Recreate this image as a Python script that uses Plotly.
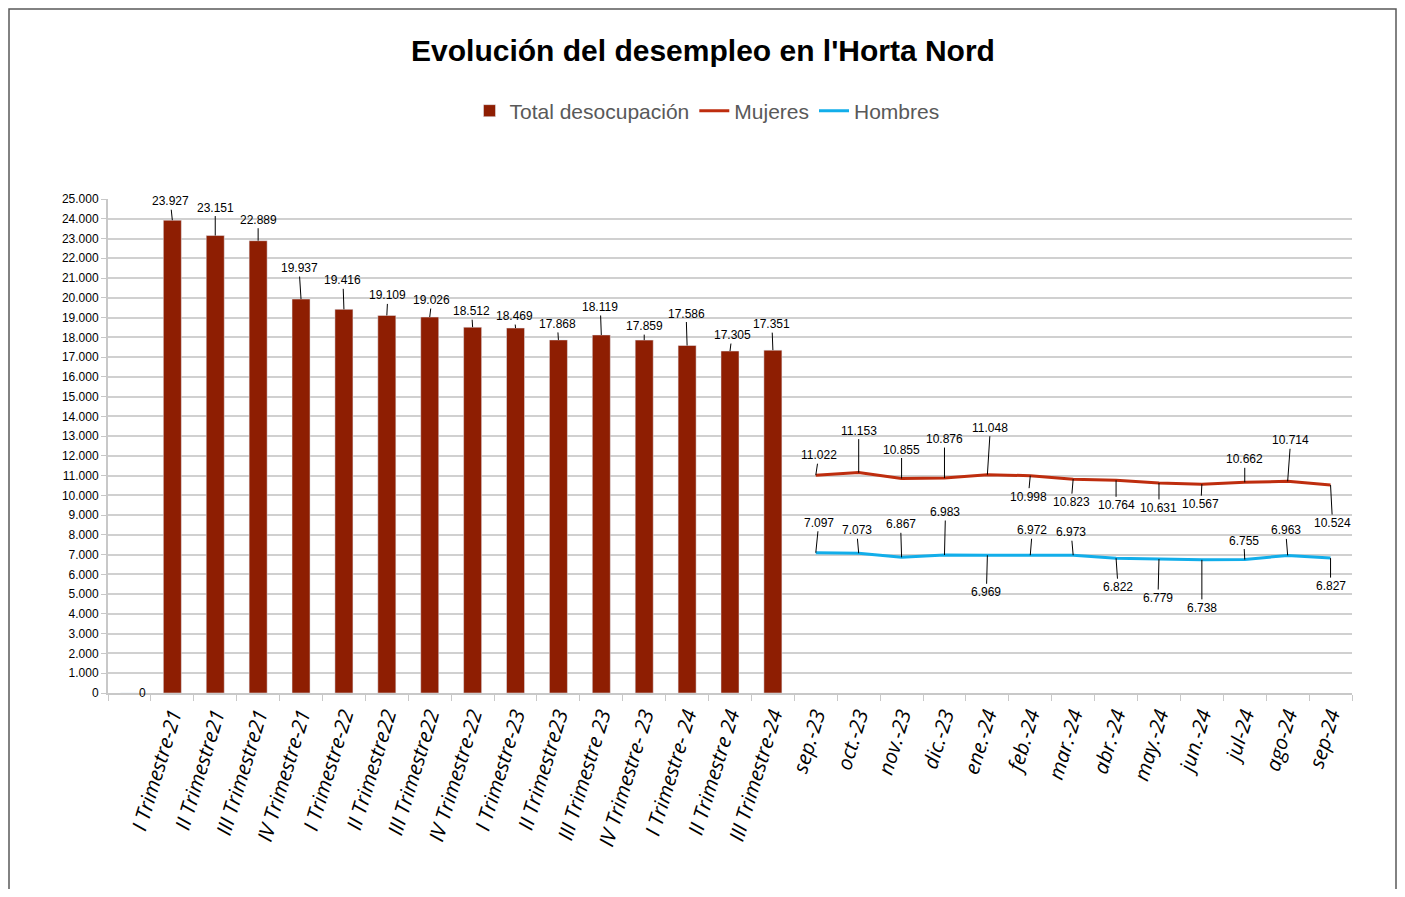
import plotly.graph_objects as go

# ---- data ----
quarters = [" ", "I Trimestre-21", "II Trimestre21", "III Trimestre21", "IV Trimestre-21",
            "I Trimestre-22", "II Trimestre22", "III Trimestre22", "IV Trimestre-22",
            "I Trimestre-23", "II Trimestre23", "III Trimestre 23", "IV Trimestre- 23",
            "I Trimestre- 24", "II Trimestre 24", "III Trimestre-24"]
total = [0, 23927, 23151, 22889, 19937, 19416, 19109, 19026, 18512, 18469, 17868,
         18119, 17859, 17586, 17305, 17351]
months = ["sep.-23", "oct.-23", "nov.-23", "dic.-23", "ene.-24", "feb.-24", "mar.-24",
          "abr.-24", "may.-24", "jun.-24", "jul-24", "ago-24", "sep-24"]
mujeres = [11022, 11153, 10855, 10876, 11048, 10998, 10823, 10764, 10631, 10567,
           10662, 10714, 10524]
hombres = [7097, 7073, 6867, 6983, 6969, 6972, 6973, 6822, 6779, 6738, 6755, 6963, 6827]

# label offsets (pixels) for leader-line labels
off_total = [(13, 0), (-2, -19), (0, -28), (0, -21), (-2, -31), (-1, -29), (1, -20), (2, -17),
             (-1, -16), (-1, -12), (-1, -16), (-1, -28), (0, -14), (-1, -32), (2, -16), (-1, -26)]
off_muj = [(3, -20), (0, -42), (0, -29), (0, -39), (3, -47), (-2, 21), (-2, 23), (0, 25),
           (0, 25), (-1, 20), (0, -23), (3, -41), (2, 38)]
off_hom = [(3, -30), (-2, -23), (-1, -33), (1, -43), (-1, 37), (2, -25), (-2, -23), (2, 29),
           (-1, 39), (0, 48), (-1, -19), (-2, -25), (0, 28)]

BAR = "#8E1E02"
MUJ = "#BE2D0E"
HOM = "#12AEEA"
FONT = "Liberation Sans, Arial, sans-serif"

W, H = 1389, 881          # page body adds an 8px margin on every side
L, R, T, B = 100, 45, 191, 196
PW, PH = W - L - R, H - T - B


def fmt(v):
    return f"{v:,}".replace(",", ".")


fig = go.Figure()
fig.add_trace(go.Bar(x=quarters, y=total, name="Total desocupación", marker_color=BAR,
                     width=0.42))
fig.add_trace(go.Scatter(x=months, y=mujeres, name="Mujeres", mode="lines",
                         line=dict(color=MUJ, width=3)))
fig.add_trace(go.Scatter(x=months, y=hombres, name="Hombres", mode="lines",
                         line=dict(color=HOM, width=3)))

ann = []
for cats, vals, offs in ((quarters, total, off_total), (months, mujeres, off_muj),
                         (months, hombres, off_hom)):
    for c, v, (dx, dy) in zip(cats, vals, offs):
        a = dict(x=c, y=v, text=fmt(v),
                 font=dict(family=FONT, size=12, color="#000000"))
        if v == 0:
            a.update(showarrow=False, xshift=dx, yshift=-dy)
        else:
            a.update(showarrow=True, arrowhead=0, arrowwidth=1, arrowcolor="#000000",
                     ax=dx, ay=dy, standoff=0)
        ann.append(a)

fig.update_layout(
    width=W, height=H,
    margin=dict(l=L, r=R, t=T, b=B),
    paper_bgcolor="white", plot_bgcolor="white",
    separators=",.",
    title=dict(text="<b>Evolución del desempleo en l'Horta Nord</b>", x=(703 - 8) / W,
               xanchor="center", y=1 - 42 / H, yanchor="middle",
               font=dict(family=FONT, size=30, color="#000000")),
    legend=dict(orientation="h", x=(707 - 108) / PW, xanchor="center",
                y=(693 - 111) / PH, yanchor="middle",
                font=dict(family=FONT, size=21, color="#595959"), itemwidth=30,
                bgcolor="rgba(0,0,0,0)"),
    showlegend=True,
    annotations=ann,
)
fig.update_xaxes(type="category", categoryorder="array", categoryarray=quarters + months,
                 tickangle=-73, tickfont=dict(family="Open Sans, DejaVu Sans", size=20.5,
                                              style="italic", color="#000000"),
                 showline=True, linecolor="#c8c8c8", linewidth=2,
                 ticks="outside", tickcolor="#c8c8c8", ticklen=6, tickson="boundaries",
                 showgrid=False, range=[-0.5, len(quarters) + len(months) - 0.5])
fig.update_yaxes(range=[0, 25000], dtick=1000, tickformat=",d",
                 tickfont=dict(family=FONT, size=12, color="#000000"),
                 showline=True, linecolor="#c8c8c8", linewidth=2,
                 ticks="outside", tickcolor="#c8c8c8", ticklen=5,
                 showgrid=True, gridcolor="#d0d0d0", gridwidth=1.6, zeroline=False)

# outer chart border (top, left, right; bottom runs off the page)
fig.add_shape(type="rect", xref="paper", yref="paper",
              x0=-(L - 1) / PW, x1=(W - 1 - L) / PW,
              y0=-(B + 20) / PH, y1=(T + PH - 1) / PH,
              line=dict(color="#595959", width=1.5), fillcolor="rgba(0,0,0,0)", layer="below")

fig.write_html("out.html")
